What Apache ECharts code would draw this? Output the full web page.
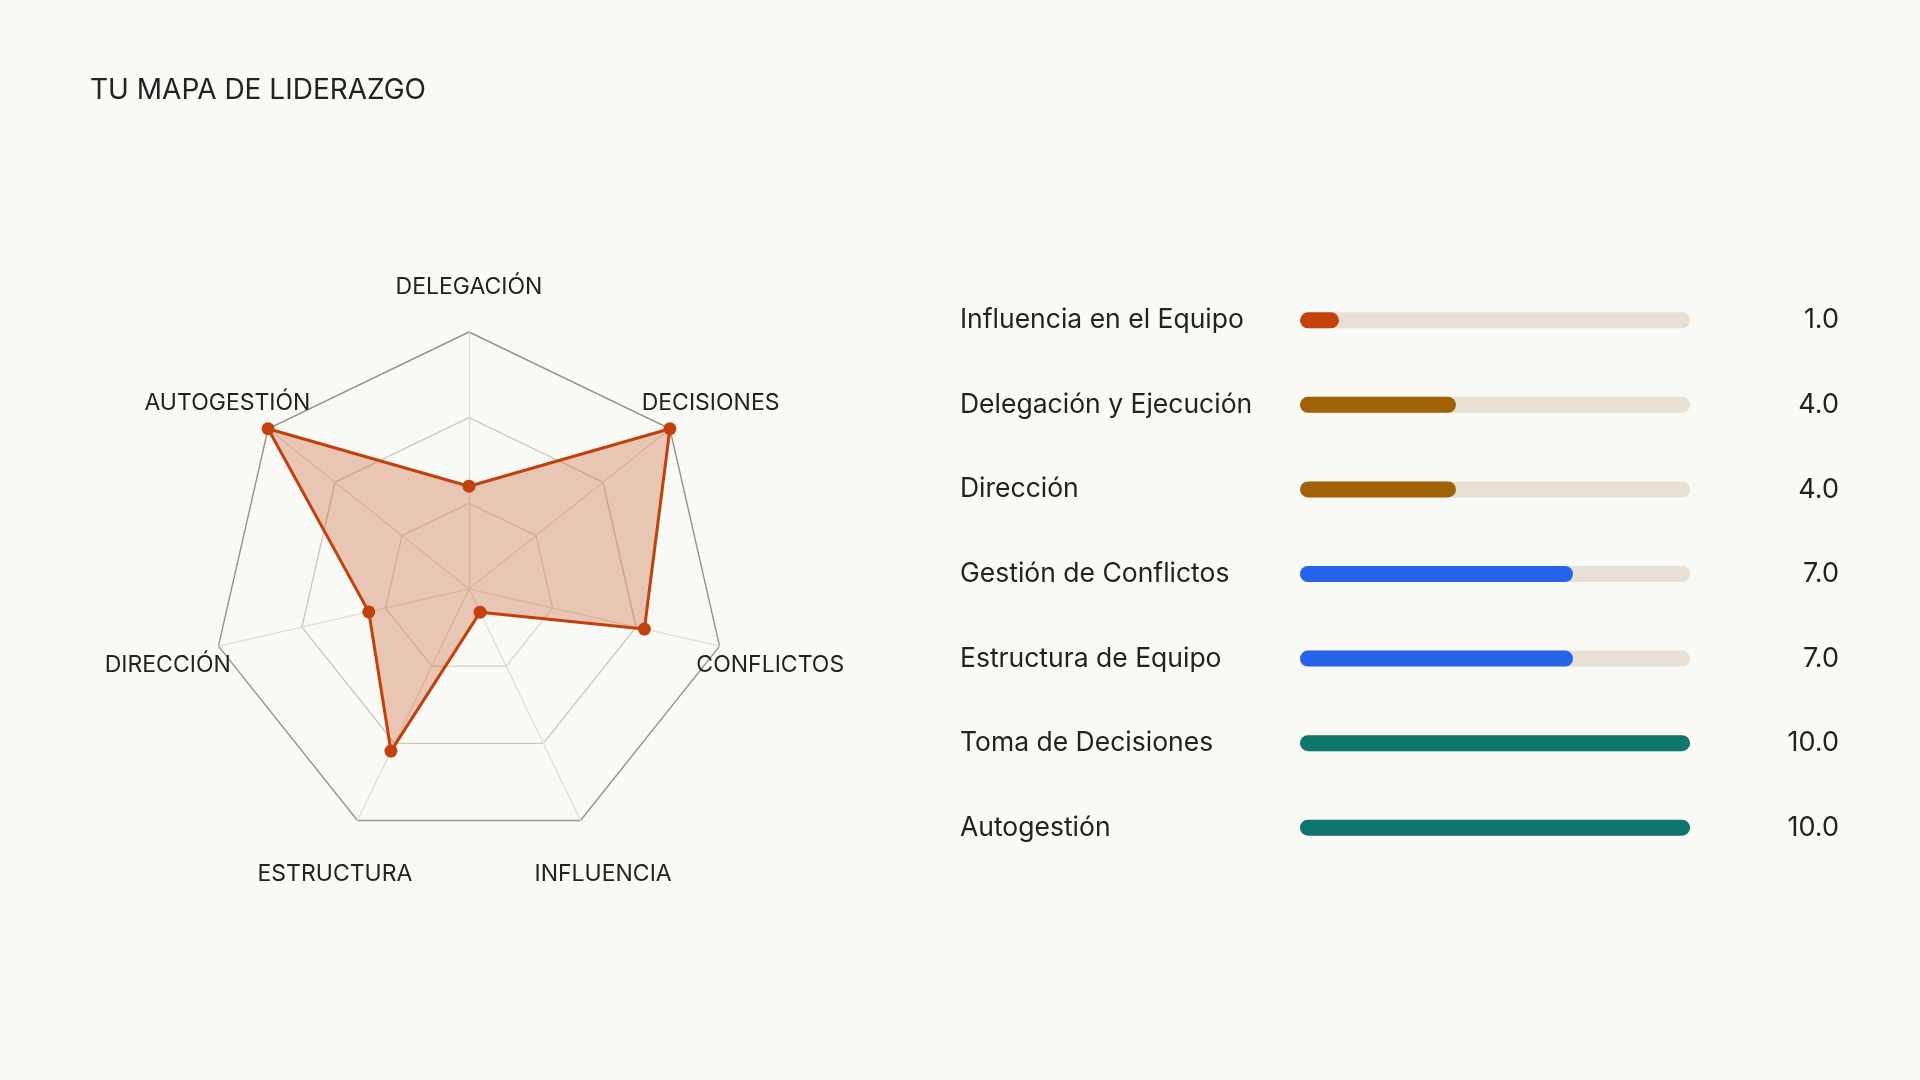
<!DOCTYPE html>
<html>
<head>
<meta charset="utf-8">
<script src="https://cdn.jsdelivr.net/npm/echarts@6/dist/echarts.min.js"></script>
<style>
  html, body { margin: 0; padding: 0; background: #f9f9f6; }
  #chart { width: 1920px; height: 1080px; }
</style>
</head>
<body>
<div id="chart"></div>
<script>
// radar, in ECharts drawing order (counter-clockwise from the top)
var radarNames = ['DELEGACIÓN', 'AUTOGESTIÓN', 'DIRECCIÓN', 'ESTRUCTURA', 'INFLUENCIA', 'CONFLICTOS', 'DECISIONES'];
var radarValues = [4, 10, 4, 7, 1, 7, 10];

// barras de la derecha
var barNames = ['Influencia en el Equipo', 'Delegación y Ejecución', 'Dirección', 'Gestión de Conflictos',
  'Estructura de Equipo', 'Toma de Decisiones', 'Autogestión'];
var barValues = [1, 4, 4, 7, 7, 10, 10];

var FONT = 'Inter';

function colorFor(v) {
  if (v <= 2) return '#c2410c';
  if (v <= 5) return '#a16207';
  if (v <= 8) return '#2563eb';
  return '#0f766e';
}

var chart = echarts.init(document.getElementById('chart'));

var option = {
  backgroundColor: '#f9f9f6',
  animation: false,
  title: {
    text: 'TU MAPA DE LIDERAZGO',
    left: 90,
    top: 77,
    padding: 0,
    textStyle: { fontFamily: FONT, fontSize: 28, fontWeight: 'normal', color: '#222' }
  },
  radar: {
    center: [469, 589],
    radius: 257,
    shape: 'polygon',
    splitNumber: 3,
    startAngle: 90,
    nameGap: 52,
    indicator: radarNames.map(function (n) { return { name: n, min: 0, max: 10 }; }),
    axisName: {
      color: '#222',
      fontFamily: FONT,
      fontSize: 23,
      align: 'center',
      verticalAlign: 'top',
      lineHeight: 14
    },
    axisLine: { lineStyle: { color: '#e3dbd0', width: 1.2 } },
    splitLine: { lineStyle: { color: ['#e0d7cb', '#e0d7cb', '#d3c7b9', '#9e9184'], width: 1.4 } },
    splitArea: { show: false }
  },
  grid: {
    left: 1300,
    width: 390,
    top: 278,
    height: 592
  },
  xAxis: { type: 'value', min: 0, max: 10, show: false },
  yAxis: [{
    type: 'category',
    inverse: true,
    data: barNames,
    axisLine: { show: false },
    axisTick: { show: false },
    axisLabel: { align: 'left', margin: 340, fontFamily: FONT, fontSize: 26.5, color: '#222' }
  }, {
    type: 'category',
    inverse: true,
    position: 'right',
    data: barValues.map(function (v) { return v.toFixed(1); }),
    axisLine: { show: false },
    axisTick: { show: false },
    axisLabel: { align: 'right', margin: 149, fontFamily: FONT, fontSize: 27, color: '#222' }
  }],
  series: [{
    type: 'radar',
    symbol: 'circle',
    symbolSize: 13,
    lineStyle: { color: '#c2410c', width: 3 },
    itemStyle: { color: '#c2410c' },
    areaStyle: { color: '#c2410c', opacity: 0.28 },
    data: [{ value: radarValues, name: 'Liderazgo' }]
  }, {
    type: 'bar',
    xAxisIndex: 0,
    yAxisIndex: 0,
    barWidth: 16,
    showBackground: true,
    backgroundStyle: { color: '#e8e0d5', borderRadius: 8 },
    data: barValues.map(function (v) {
      return { value: v, itemStyle: { color: colorFor(v), borderRadius: 8 } };
    })
  }]
};

chart.setOption(option);
</script>
</body>
</html>
